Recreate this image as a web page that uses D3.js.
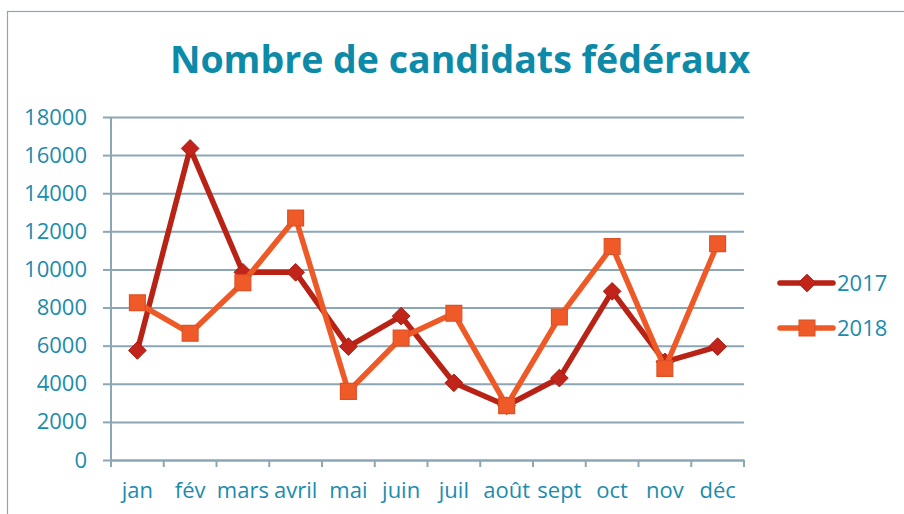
<!DOCTYPE html>
<html>
<head>
<meta charset="utf-8">
<script src="https://cdn.jsdelivr.net/npm/d3@7"></script>
<style>
  body { margin: 0; background: #fff; }
  svg { display: block; font-family: "Open Sans", sans-serif; }
</style>
</head>
<body>
<div id="chart"></div>
<script>
// chart data
var months = ['jan', 'fév', 'mars', 'avril', 'mai', 'juin', 'juil', 'août', 'sept', 'oct', 'nov', 'déc']
var values2017 = [5750, 16350, 9850, 9850, 5950, 7550, 4050, 2850, 4300, 8850, 5150, 5950]
var values2018 = [8250, 6650, 9300, 12700, 3600, 6400, 7700, 2850, 7500, 11200, 4800, 11350]
var yTicks = [0, 2000, 4000, 6000, 8000, 10000, 12000, 14000, 16000, 18000]
var seriesNames = ['2017', '2018']

var width = 904, height = 514
var margin = { top: 117, right: 160, bottom: 54, left: 111 }
var plotW = width - margin.left - margin.right
var plotH = height - margin.top - margin.bottom

var textColor = '#1a8cad'
var gridColor = '#8ba6b5'
var colors = { '2017': '#b82316', '2018': '#ee5a27' }

var svg = d3.select('#chart').append('svg')
  .attr('width', width)
  .attr('height', height)

// outer frame
svg.append('rect')
  .attr('x', 7.5).attr('y', 11.5)
  .attr('width', width).attr('height', height)
  .attr('fill', 'none')
  .attr('stroke', gridColor)
  .attr('stroke-width', 1.2)

svg.append('text')
  .attr('x', 460).attr('y', 73)
  .attr('text-anchor', 'middle')
  .attr('font-size', 37.5)
  .attr('font-weight', 'bold')
  .attr('fill', '#0d8aa8')
  .text('Nombre de candidats fédéraux')

var x = d3.scaleBand().domain(months).range([0, plotW]).padding(0)
var y = d3.scaleLinear().domain([0, 18000]).range([plotH, 0])

var g = svg.append('g')
  .attr('transform', 'translate(' + margin.left + ',' + margin.top + ')')

// gridlines
g.append('g')
  .call(d3.axisLeft(y).tickValues(yTicks).tickSize(-plotW).tickFormat(''))
  .call(function (s) {
    s.select('.domain').remove()
    s.selectAll('line').attr('stroke', gridColor).attr('stroke-width', 2)
  })

// y axis
g.append('g')
  .call(d3.axisLeft(y).tickValues(yTicks).tickSize(8).tickPadding(16).tickFormat(d3.format('d')))
  .call(function (s) {
    s.select('.domain').remove()
    s.selectAll('line').attr('stroke', gridColor).attr('stroke-width', 2)
    s.selectAll('text').attr('fill', textColor).attr('font-size', 22).attr('font-family', '"Open Sans", sans-serif')
  })

g.append('line')
  .attr('x1', 0).attr('x2', 0)
  .attr('y1', 0).attr('y2', plotH + 7)
  .attr('stroke', gridColor).attr('stroke-width', 2)

// x axis
g.append('g')
  .attr('transform', 'translate(0,' + plotH + ')')
  .call(d3.axisBottom(x).tickSize(0).tickPadding(22))
  .call(function (s) {
    s.select('.domain').attr('stroke', gridColor).attr('stroke-width', 2)
    s.selectAll('text').attr('fill', textColor).attr('font-size', 22).attr('font-family', '"Open Sans", sans-serif')
  })

g.selectAll('.xtick')
  .data(d3.range(months.length + 1))
  .enter().append('line')
  .attr('class', 'xtick')
  .attr('x1', function (i) { return i * x.step() })
  .attr('x2', function (i) { return i * x.step() })
  .attr('y1', plotH).attr('y2', plotH + 7)
  .attr('stroke', gridColor).attr('stroke-width', 2)

var series = [
  { name: '2017', values: values2017 },
  { name: '2018', values: values2018 }
]

var line = d3.line()
  .x(function (d, i) { return x(months[i]) + x.bandwidth() / 2 })
  .y(function (d) { return y(d) })

var diamond = d3.symbol().type(d3.symbolDiamond2).size(200)
var square = d3.symbol().type(d3.symbolSquare2).size(320)

function drawMarker (sel, name) {
  if (name === '2017') {
    sel.append('path').attr('d', diamond).attr('fill', '#c0241a').attr('stroke', '#a81e12').attr('stroke-width', 1)
  } else {
    sel.append('path').attr('d', square).attr('fill', '#f05a28').attr('stroke', '#dc5226').attr('stroke-width', 1.2)
  }
}

series.forEach(function (s) {
  var sg = g.append('g')
  sg.append('path')
    .datum(s.values)
    .attr('d', line)
    .attr('fill', 'none')
    .attr('stroke', colors[s.name])
    .attr('stroke-width', 5.5)
    .attr('stroke-linejoin', 'round')
  sg.selectAll('.pt')
    .data(s.values)
    .enter().append('g')
    .attr('class', 'pt')
    .attr('transform', function (d, i) {
      return 'translate(' + (x(months[i]) + x.bandwidth() / 2) + ',' + y(d) + ')'
    })
    .each(function () { drawMarker(d3.select(this), s.name) })
})

// legend
var legend = svg.append('g')
var item = legend.selectAll('.item')
  .data(seriesNames)
  .enter().append('g')
  .attr('class', 'item')
  .attr('transform', function (d, i) { return 'translate(780,' + (283 + i * 45) + ')' })

item.append('line')
  .attr('x1', 0).attr('x2', 53)
  .attr('stroke', function (d) { return colors[d] })
  .attr('stroke-width', 5.5)
  .attr('stroke-linecap', 'round')
item.append('g')
  .attr('transform', 'translate(27,0)')
  .each(function (d) { drawMarker(d3.select(this), d) })
item.append('text')
  .attr('x', 57).attr('dy', '0.36em')
  .attr('fill', textColor)
  .attr('font-size', 22)
  .text(function (d) { return d })
</script>
</body>
</html>
